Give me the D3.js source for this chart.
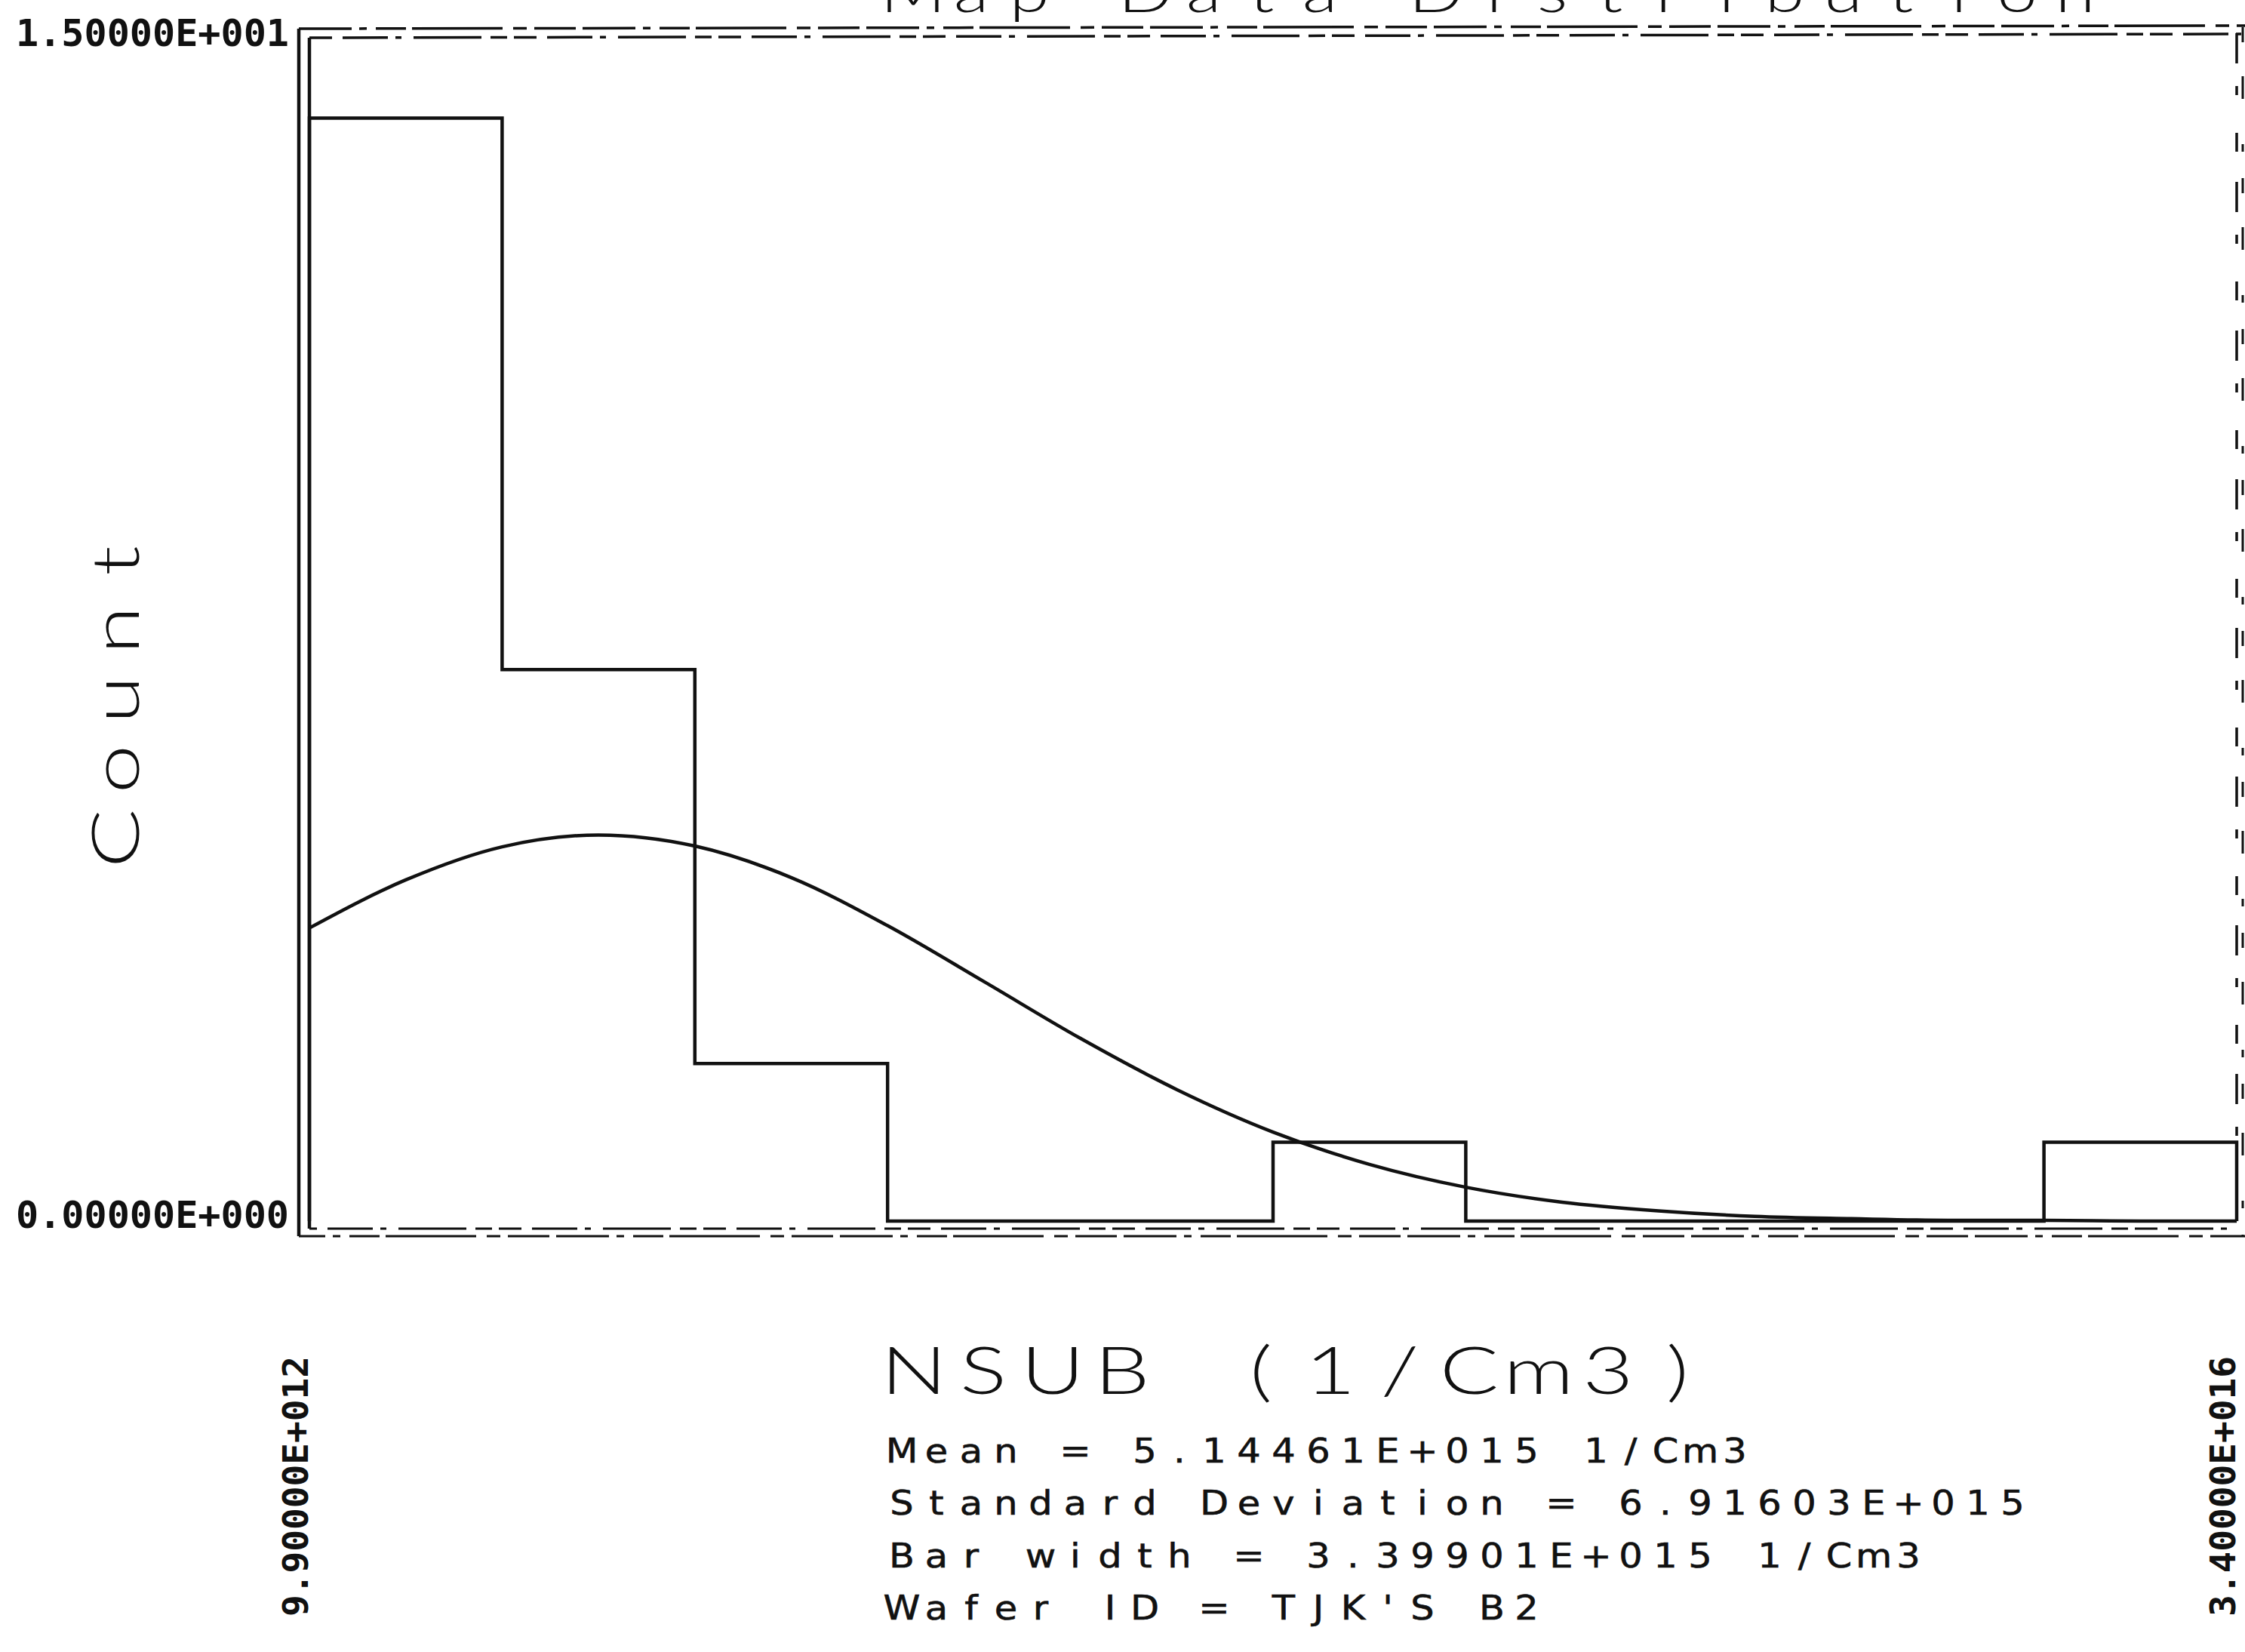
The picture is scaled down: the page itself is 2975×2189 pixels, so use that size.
<!DOCTYPE html>
<html>
<head>
<meta charset="utf-8">
<script src="https://cdn.jsdelivr.net/npm/d3@7"></script>
<style>
  body { margin: 0; background: #fff; }
</style>
</head>
<body>
<div id="chart"></div>
<script>
// histogram bins, x in units of 1e15 1/Cm3
const binEdges = [0.0099, 3.40891, 6.80792, 10.20693, 13.60594, 17.00495, 20.40396, 23.80297, 27.20198, 30.60099, 34.0];
const binCounts = [14, 7, 2, 0, 0, 1, 0, 0, 0, 1];

// fitted normal curve
const curveX = [0.0099, 1.7094, 3.4089, 5.1084, 6.8079, 8.5074, 10.2069, 11.9064, 13.6059, 15.3054, 17.0050,
                18.7045, 20.4040, 22.1035, 23.8030, 25.5025, 27.2020, 28.9015, 30.6010, 32.3005, 34.0];
const curveY = [3.72, 4.33, 4.75, 4.90, 4.76, 4.36, 3.75, 3.04, 2.32, 1.67, 1.13,
                0.72, 0.43, 0.24, 0.13, 0.06, 0.03, 0.01, 0.01, 0.00, 0.00];

const yTickValues = [0, 15];
const yTickLabels = ["0.00000E+000", "1.50000E+001"];
const xTickValues = [0.0099, 34.0];
const xTickLabels = ["9.90000E+012", "3.40000E+016"];

const titleText = "Map Data Distribution";
const xTitle = "NSUB (1/Cm3)";
const yTitle = "Count";
const statLines = [
    "Mean = 5.14461E+015 1/Cm3",
    "Standard Deviation = 6.91603E+015",
    "Bar width = 3.39901E+015 1/Cm3",
    "Wafer ID = TJK'S B2"
];

const W = 2975, H = 2189;
const ink = "#111";
const plotFont = "Lato, 'DejaVu Sans', sans-serif";
const monoFont = "'DejaVu Sans Mono', monospace";

const svg = d3.select("#chart").append("svg")
    .attr("width", W)
    .attr("height", H)
    .style("display", "block");

svg.append("rect").attr("width", W).attr("height", H).attr("fill", "#fff");

// scales
const x = d3.scaleLinear().domain([binEdges[0], binEdges[binEdges.length - 1]]).range([410, 2964]);
const y = d3.scaleLinear().domain([0, 15]).range([1618, 52]);

// helper: one glyph per fixed cell, like the plotter font (sx widens the glyphs)
function cellText(parent, str, cx0, pitch, sx) {
    const g = parent.append("g").attr("transform", `scale(${sx},1)`);
    const xs = str.split("").map((c, i) => (cx0 + i * pitch) / sx);
    return g.append("text")
        .attr("x", xs.join(" "))
        .attr("text-anchor", "middle")
        .style("white-space", "pre")
        .text(str);
}

// frame (double lines, photocopied look)
const x0 = x.range()[0], x1 = x.range()[1];
const yTop = y(15), yBot = y(0);
const dash1 = "70 10 10 12 40 8 120 14 18 10 55 9";
const dash2 = "30 14 60 10 8 16 90 12 22 9";
const frame = svg.append("g").attr("stroke", ink).attr("fill", "none");

// left solid lines
frame.append("line").attr("x1", x0 - 14).attr("x2", x0 - 14).attr("y1", yTop - 14).attr("y2", yBot + 20).attr("stroke-width", 4.5);
frame.append("line").attr("x1", x0).attr("x2", x0).attr("y1", yTop - 2).attr("y2", yBot + 10).attr("stroke-width", 4.5);
// top dashed lines
frame.append("line").attr("x1", x0 - 14).attr("x2", W).attr("y1", yTop - 14).attr("y2", yTop - 18)
    .attr("stroke-width", 3.5).attr("stroke-dasharray", dash1);
frame.append("line").attr("x1", x0).attr("x2", x1 + 6).attr("y1", yTop - 2).attr("y2", yTop - 7)
    .attr("stroke-width", 3.5).attr("stroke-dasharray", dash2);
// bottom dashed lines
frame.append("line").attr("x1", x0).attr("x2", x1).attr("y1", yBot + 10).attr("y2", yBot + 10)
    .attr("stroke-width", 3).attr("stroke-dasharray", dash2).attr("stroke-dashoffset", 20);
frame.append("line").attr("x1", x0 - 14).attr("x2", W).attr("y1", yBot + 20).attr("y2", yBot + 20)
    .attr("stroke-width", 3).attr("stroke-dasharray", dash1).attr("stroke-dashoffset", 35);
// right dashed lines
frame.append("line").attr("x1", x1).attr("x2", x1).attr("y1", yTop - 8).attr("y2", yBot)
    .attr("stroke-width", 3.5).attr("stroke-dasharray", "40 30 12 50 25 40");
frame.append("line").attr("x1", x1 + 8).attr("x2", x1 + 8).attr("y1", yTop - 16).attr("y2", yBot + 20)
    .attr("stroke-width", 3).attr("stroke-dasharray", "20 45 30 60 10 35");

// histogram outline as a step line
const steps = [[binEdges[0], 0]];
binCounts.forEach((c, i) => steps.push([binEdges[i], c]));
steps.push([binEdges[binEdges.length - 1], binCounts[binCounts.length - 1]]);
steps.push([binEdges[binEdges.length - 1], 0]);

svg.append("path")
    .datum(steps)
    .attr("fill", "none")
    .attr("stroke", ink)
    .attr("stroke-width", 4.5)
    .attr("stroke-linejoin", "miter")
    .attr("d", d3.line()
        .curve(d3.curveStepAfter)
        .x(d => x(d[0]))
        .y(d => y(d[1])));

// normal curve
svg.append("path")
    .datum(curveX.map((v, i) => [v, curveY[i]]))
    .attr("fill", "none")
    .attr("stroke", ink)
    .attr("stroke-width", 4.5)
    .attr("d", d3.line()
        .curve(d3.curveMonotoneX)
        .x(d => x(d[0]))
        .y(d => y(d[1])));

// y axis labels
const yAxis = svg.append("g")
    .attr("transform", `translate(${x0 - 27},0)`)
    .call(d3.axisLeft(y).tickValues(yTickValues).tickFormat((d, i) => yTickLabels[i]).tickSize(0).tickPadding(0));
yAxis.select(".domain").remove();
yAxis.selectAll("text")
    .attr("x", 0)
    .attr("dy", 8)
    .attr("fill", ink)
    .attr("text-anchor", "end")
    .attr("textLength", 362)
    .attr("lengthAdjust", "spacingAndGlyphs")
    .style("font-family", monoFont)
    .style("font-weight", "bold")
    .style("font-size", "50px");

// x axis labels, rotated
const xAxis = svg.append("g")
    .attr("transform", `translate(0,${yBot})`)
    .call(d3.axisBottom(x).tickValues(xTickValues).tickFormat((d, i) => xTickLabels[i]).tickSize(0).tickPadding(0));
xAxis.select(".domain").remove();
xAxis.selectAll("text")
    .attr("transform", "rotate(-90)")
    .attr("x", yBot - 2142)
    .attr("y", -3)
    .attr("dy", 0)
    .attr("fill", ink)
    .attr("text-anchor", "start")
    .attr("textLength", 345)
    .attr("lengthAdjust", "spacingAndGlyphs")
    .style("font-family", monoFont)
    .style("font-weight", "bold")
    .style("font-size", "46px");

// title (cut off at the top of the page)
cellText(svg.append("g"), titleText, 1210, 77, 1.3)
    .attr("y", 16)
    .attr("fill", ink)
    .style("font-family", plotFont)
    .style("font-weight", 300)
    .style("font-size", "74px");

// y title
cellText(svg.append("g").attr("transform", "translate(184,0) rotate(-90)"), yTitle, -1111, 92, 1.35)
    .attr("y", 0)
    .attr("fill", ink)
    .style("font-family", plotFont)
    .style("font-weight", 300)
    .style("font-size", "86px");

// x title
cellText(svg.append("g"), xTitle, 1211, 92, 1.35)
    .attr("y", 1847)
    .attr("fill", ink)
    .style("font-family", plotFont)
    .style("font-weight", 300)
    .style("font-size", "86px");

// statistics block
const stats = svg.append("g");
statLines.forEach((line, i) => {
    cellText(stats, line, 1195, 46, 1.1)
        .attr("y", 1938 + i * 69.5)
        .attr("fill", ink)
        .attr("stroke", ink)
        .attr("stroke-width", 0.6)
        .style("font-family", "'DejaVu Sans', sans-serif")
        .style("font-size", "45px");
});
</script>
</body>
</html>
